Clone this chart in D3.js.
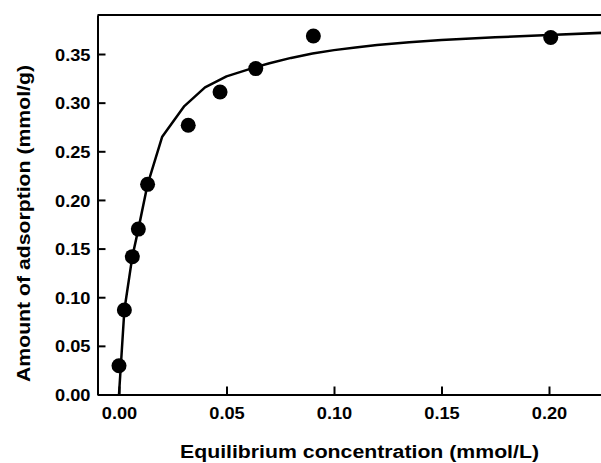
<!DOCTYPE html>
<html>
<head>
<meta charset="utf-8">
<script src="https://cdn.jsdelivr.net/npm/d3@7"></script>
<style>
  html, body { margin: 0; padding: 0; background: #fff; }
  svg { display: block; }
  text { font-family: "Liberation Sans", Arial, Helvetica, sans-serif; font-weight: bold; fill: #000; }
</style>
</head>
<body>
<script>
// Measured points (equilibrium concentration, mmol/L ; amount adsorbed, mmol/g)
const concentration = [0.0000, 0.0025, 0.0062, 0.0090, 0.0133, 0.0322, 0.0470, 0.0636, 0.0904, 0.2008];
const adsorption    = [0.0296, 0.0869, 0.1417, 0.1700, 0.2160, 0.2767, 0.3110, 0.3350, 0.3685, 0.3670];

// Fitted curve vertices
const fitX = [0.0000, 0.0025, 0.0062, 0.0090, 0.0133, 0.0201, 0.0304, 0.0400, 0.0500, 0.0636, 0.0700, 0.0800, 0.0900, 0.1000, 0.1100, 0.1200, 0.1350, 0.1500, 0.1750, 0.2000, 0.2250];
const fitY = [0.0000, 0.0869, 0.1417, 0.1700, 0.2160, 0.2650, 0.2965, 0.3157, 0.3270, 0.3365, 0.3405, 0.3460, 0.3505, 0.3540, 0.3568, 0.3592, 0.3620, 0.3643, 0.3672, 0.3696, 0.3718];

const xTicks = [0.00, 0.05, 0.10, 0.15, 0.20];
const yTicks = [0.00, 0.05, 0.10, 0.15, 0.20, 0.25, 0.30, 0.35];

const W = 601, H = 463;
const mLeft = 97.5, mTop = 15, mBottom = 394.5;

const svg = d3.select("body").append("svg").attr("width", W).attr("height", H);

const x = d3.scaleLinear().domain([-0.01, 0.225]).range([mLeft, mLeft + 505.25]);
const y = d3.scaleLinear().domain([0, 0.39]).range([mBottom, mTop + 0.1]);

svg.append("clipPath").attr("id", "clip")
  .append("rect").attr("x", mLeft).attr("y", mTop).attr("width", W - mLeft).attr("height", mBottom - mTop);

// Axes
const xAxis = d3.axisBottom(x).tickValues(xTicks).tickFormat(d3.format(".2f"))
  .tickSizeInner(-8).tickSizeOuter(0).tickPadding(12);
const yAxis = d3.axisLeft(y).tickValues(yTicks).tickFormat(d3.format(".2f"))
  .tickSizeInner(-8).tickSizeOuter(0).tickPadding(7);

const gx = svg.append("g").attr("transform", `translate(0,${mBottom})`).call(xAxis);
const gy = svg.append("g").attr("transform", `translate(${mLeft},0)`).call(yAxis);

[gx, gy].forEach(g => {
  g.select(".domain").attr("stroke", "#000").attr("stroke-width", 2);
  g.selectAll(".tick line").attr("stroke", "#000").attr("stroke-width", 2);
  g.selectAll(".tick text").attr("font-size", 17).attr("font-weight", "bold")
    .attr("font-family", "'Liberation Sans', Arial, sans-serif").attr("fill", "#000")
    .attr("textLength", 35.5).attr("lengthAdjust", "spacingAndGlyphs");
});
gy.selectAll(".tick text").attr("dy", "0.36em");

// Top frame line
svg.append("line").attr("x1", mLeft).attr("x2", W + 2).attr("y1", mTop).attr("y2", mTop)
  .attr("stroke", "#000").attr("stroke-width", 2);

const plot = svg.append("g").attr("clip-path", "url(#clip)");

// Fitted curve
const fit = fitX.map((d, i) => [d, fitY[i]]);
plot.append("path")
  .datum(fit)
  .attr("fill", "none").attr("stroke", "#000").attr("stroke-width", 2.5)
  .attr("stroke-linejoin", "round")
  .attr("d", d3.line().x(d => x(d[0])).y(d => y(d[1])));

// Points
svg.append("g").selectAll("circle")
  .data(concentration.map((d, i) => [d, adsorption[i]]))
  .join("circle")
  .attr("cx", d => x(d[0])).attr("cy", d => y(d[1])).attr("r", 7.5).attr("fill", "#000");

// Axis titles
svg.append("text")
  .attr("x", 359.5).attr("y", 458)
  .attr("text-anchor", "middle").attr("font-size", 17.5)
  .attr("textLength", 359).attr("lengthAdjust", "spacingAndGlyphs")
  .text("Equilibrium concentration (mmol/L)");

svg.append("text")
  .attr("transform", `translate(30,223.5) rotate(-90)`)
  .attr("text-anchor", "middle").attr("font-size", 17.5)
  .attr("textLength", 317).attr("lengthAdjust", "spacingAndGlyphs")
  .text("Amount of adsorption (mmol/g)");
</script>
</body>
</html>
